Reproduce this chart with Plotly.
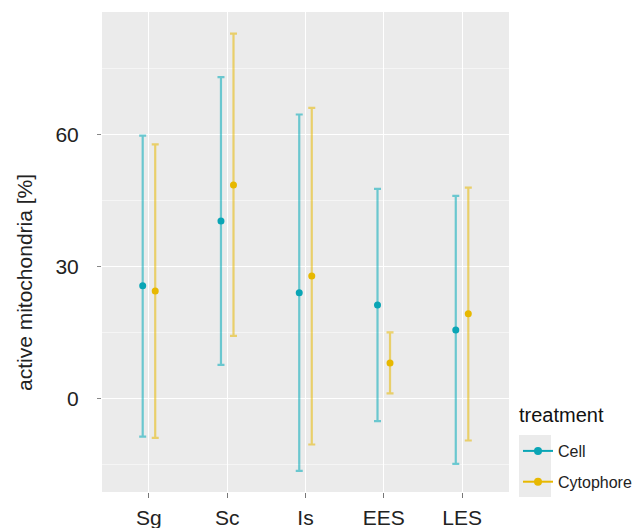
import plotly.graph_objects as go

categories = ["Sg", "Sc", "Is", "EES", "LES"]
treatments = ["Cell", "Cytophore"]

cell_mean = [25.6, 40.3, 24.0, 21.2, 15.5]
cell_low = [-8.7, 7.6, -16.5, -5.2, -14.9]
cell_high = [59.7, 73.0, 64.5, 47.6, 46.0]

cyto_mean = [24.4, 48.5, 27.8, 8.0, 19.2]
cyto_low = [-9.0, 14.2, -10.5, 1.1, -9.6]
cyto_high = [57.7, 82.9, 66.0, 15.0, 47.9]

y_ticks = [0, 30, 60]

colors = {"Cell": "#0AA5B5", "Cytophore": "#E7B800"}
line_colors = {"Cell": "rgba(0,169,184,0.55)", "Cytophore": "rgba(231,184,0,0.55)"}
dodge = {"Cell": -0.08, "Cytophore": 0.08}

series = {
    "Cell": (cell_mean, cell_low, cell_high),
    "Cytophore": (cyto_mean, cyto_low, cyto_high),
}

# panel in page pixels: x 102..509, y 12..492 (page has an 8px body margin)
L, T, W, H = 94, 4, 407, 480


def px_x(x):
    return (x - 102) / W


def px_y(y):
    return (492 - y) / H


fig = go.Figure()
for t in treatments:
    mean, low, high = series[t]
    xs = [i + dodge[t] for i in range(len(categories))]
    fig.add_trace(go.Scatter(
        x=xs, y=mean, mode="markers", name=t, showlegend=False,
        marker=dict(color=colors[t], size=7),
        error_y=dict(type="data", symmetric=False,
                     array=[h - m for h, m in zip(high, mean)],
                     arrayminus=[m - l for m, l in zip(mean, low)],
                     color=line_colors[t], thickness=2.2, width=3.5),
    ))
for t in treatments:
    fig.add_trace(go.Scatter(
        x=[None], y=[None], mode="lines+markers", name=t, showlegend=True,
        legendgroup=t,
        marker=dict(color=colors[t], size=8),
        line=dict(color=colors[t], width=2),
    ))

fig.update_layout(
    width=640, height=528,
    margin=dict(l=L, r=640 - L - W, t=T, b=528 - T - H, autoexpand=False),
    paper_bgcolor="white",
    plot_bgcolor="#EBEBEB",
    font=dict(family="Liberation Sans, Arial, sans-serif", color="#222222"),
    showlegend=True,
    legend=dict(
        x=px_x(518), xanchor="left", y=px_y(434), yanchor="top",
        font=dict(size=16, color="#222222"),
        bgcolor="rgba(0,0,0,0)",
        itemwidth=30, tracegroupgap=7,
    ),
    xaxis=dict(
        automargin=False,
        range=[-0.6, 4.6],
        tickmode="array", tickvals=list(range(len(categories))), ticktext=categories,
        showgrid=True, gridcolor="white", gridwidth=1.4,
        zeroline=False, showline=False,
        ticks="outside", ticklen=5, tickcolor="#777777", tickwidth=1,
        tickfont=dict(size=21, color="#222222"),
        ticklabelstandoff=2,
    ),
    yaxis=dict(
        automargin=False,
        range=[-21.3, 87.8],
        tickmode="array", tickvals=y_ticks,
        showgrid=True, gridcolor="white", gridwidth=1.4,
        minor=dict(tickvals=[-15, 15, 45, 75], showgrid=True, gridcolor="#F5F5F5", gridwidth=0.8),
        zeroline=False, showline=False,
        ticks="outside", ticklen=4, tickcolor="#888888", tickwidth=1,
        tickfont=dict(size=21, color="#222222"),
        ticklabelstandoff=14,
    ),
    annotations=[
        dict(
            text="active mitochondria [%]", xref="paper", yref="paper",
            x=px_x(24), y=px_y(283), xanchor="center", yanchor="middle",
            textangle=-90, showarrow=False, font=dict(size=21, color="#222222"),
        ),
        dict(
            text="treatment", xref="paper", yref="paper",
            x=px_x(517), y=px_y(415), xanchor="left", yanchor="middle",
            showarrow=False, font=dict(size=20, color="#111111"),
        ),
    ],
    shapes=[dict(
        type="rect", xref="paper", yref="paper",
        x0=px_x(519), x1=px_x(551),
        y0=px_y(497), y1=px_y(435),
        fillcolor="#EBEBEB", line=dict(width=0), layer="below",
    )],
)

fig.write_html("out.html")
